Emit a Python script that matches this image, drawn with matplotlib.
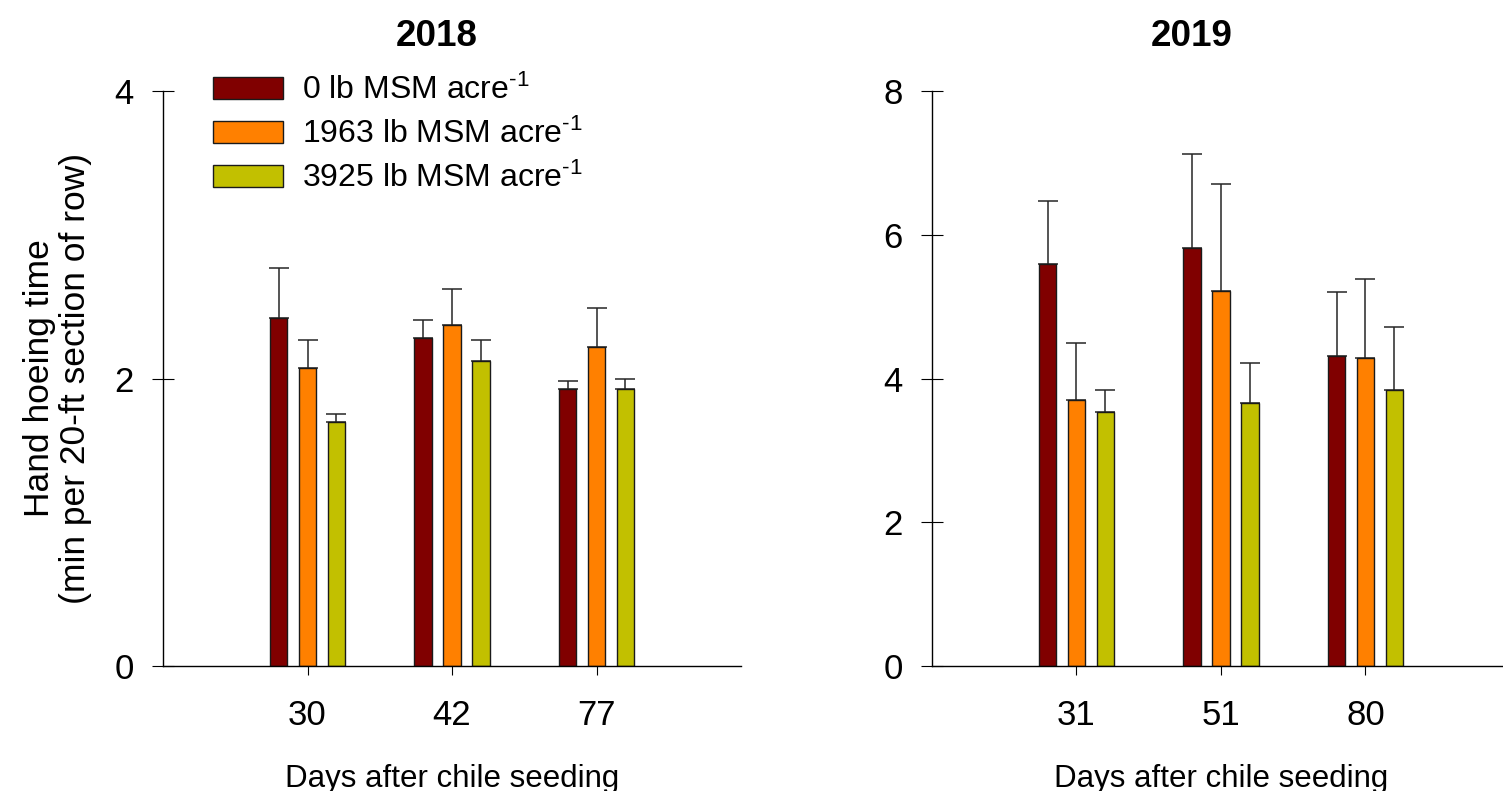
import matplotlib
matplotlib.use("Agg")
import matplotlib.pyplot as plt
import numpy as np

plt.rcParams['font.family'] = ['Liberation Sans', 'DejaVu Sans']
plt.rcParams['mathtext.fontset'] = 'custom'
plt.rcParams['mathtext.rm'] = 'Liberation Sans'
plt.rcParams['mathtext.it'] = 'Liberation Sans:italic'

# data (means and upper error bar lengths)
labels = [r'0 lb MSM acre$^{\text{-1}}$', r'1963 lb MSM acre$^{\text{-1}}$',
          r'3925 lb MSM acre$^{\text{-1}}$']
colors = ['#800000', '#ff8000', '#c2c000']

days_2018 = ['30', '42', '77']
mean_2018 = [[2.42, 2.28, 1.93],
             [2.07, 2.37, 2.22],
             [1.70, 2.12, 1.93]]
err_2018 = [[0.35, 0.13, 0.05],
            [0.20, 0.25, 0.27],
            [0.05, 0.15, 0.07]]

days_2019 = ['31', '51', '80']
mean_2019 = [[5.60, 5.82, 4.32],
             [3.70, 5.22, 4.28],
             [3.53, 3.66, 3.84]]
err_2019 = [[0.87, 1.30, 0.89],
            [0.80, 1.48, 1.10],
            [0.31, 0.56, 0.87]]

fig = plt.figure(figsize=(15.03, 7.91), dpi=100)
ax1 = fig.add_axes([163/1503, 125/791, 578/1503, 575/791])
ax2 = fig.add_axes([932/1503, 125/791, 578/1503, 575/791])


def draw(ax, days, means, errs, ymax, ystep):
    pos = np.arange(1, len(days) + 1)
    for i in range(3):
        x = pos + (i - 1) * 0.2
        ax.bar(x, means[i], width=0.123, color=colors[i], edgecolor='#1a1a1a',
               linewidth=1.0, label=labels[i], zorder=2)
        ax.errorbar(x, means[i], yerr=[np.zeros(len(days)), errs[i]], fmt='none',
                    ecolor='#262626', elinewidth=1.1, capsize=7.5, capthick=1.1,
                    zorder=1)
    ax.set_xlim(0, 4)
    ax.set_ylim(0, ymax)
    ax.set_xticks(pos)
    ax.set_xticklabels(days)
    ax.set_yticks(np.arange(0, ymax + 0.01, ystep))
    for s in ['top', 'right']:
        ax.spines[s].set_visible(False)
    for s in ['left', 'bottom']:
        ax.spines[s].set_linewidth(1.0)
    ax.tick_params(axis='y', direction='inout', length=16, width=0.8,
                   labelsize=25, pad=13)
    ax.tick_params(axis='x', direction='out', length=6.5, width=0.8,
                   labelsize=25, pad=17)
    ax.set_xlabel('Days after chile seeding', fontsize=22.5)
    ax.xaxis.label.set_va('baseline')
    ax.xaxis.set_label_coords(0.5, -0.21)


draw(ax1, days_2018, mean_2018, err_2018, 4, 2)
draw(ax2, days_2019, mean_2019, err_2019, 8, 2)

ax1.set_ylabel('Hand hoeing time\n(min per 20-ft section of row)', fontsize=25.5,
               linespacing=1.12)
ax1.yaxis.label.set_va('center')
ax1.yaxis.set_label_coords(-0.183, 0.5)

ax1.text(0.474, 1.095, '2018', transform=ax1.transAxes, ha='center', va='center',
         fontsize=26.5, fontweight='bold')
ax2.text(0.449, 1.095, '2019', transform=ax2.transAxes, ha='center', va='center',
         fontsize=26.5, fontweight='bold')

ax1.legend(loc='upper left', bbox_to_anchor=(0.0865, 1.028), frameon=False,
           fontsize=23, handlelength=2.2, handleheight=0.65, handletextpad=0.6,
           labelspacing=0.4, borderpad=0, borderaxespad=0)

fig.savefig('out.png', dpi=100)
